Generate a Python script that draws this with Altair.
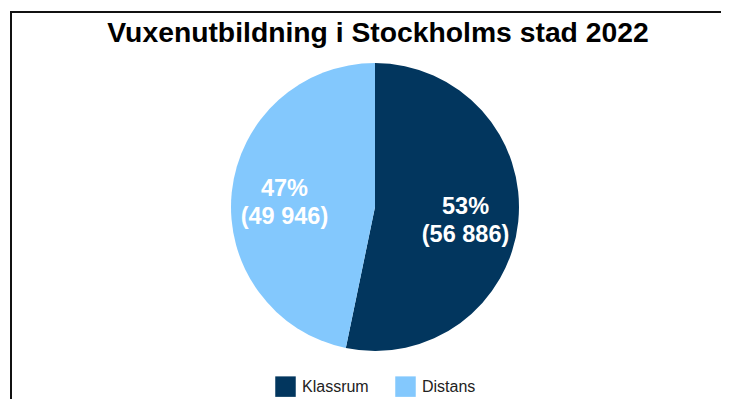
import altair as alt
import pandas as pd

categories = ["Klassrum", "Distans"]
values = [56886, 49946]
colors = ["#02365E", "#83C8FD"]
title_text = "Vuxenutbildning i Stockholms stad 2022"

total = sum(values)
labels = []
for v in values:
    pct = round(100 * v / total)
    labels.append(f"{pct}%\n({v:,})".replace(",", " "))

df = pd.DataFrame({"cat": categories, "val": values, "label": labels,
                   "order": list(range(len(categories)))})

W, H = 713, 391
CX, CY, R = 367, 199, 144

base = alt.Chart(df).encode(
    theta=alt.Theta("val:Q", stack=True),
    order=alt.Order("order:Q"),
)

arc = base.mark_arc(outerRadius=R, stroke=None).encode(
    x=alt.value(CX), y=alt.value(CY),
    color=alt.Color("cat:N", sort=categories,
                    scale=alt.Scale(domain=categories, range=colors),
                    legend=alt.Legend(title=None, orient="none", direction="horizontal",
                                      legendX=267, legendY=368,
                                      symbolType="square", symbolSize=420,
                                      symbolStrokeWidth=0,
                                      labelFontSize=16, labelFont="Liberation Sans",
                                      labelColor="#222222", columnPadding=26,
                                      labelOffset=6)),
)

txt = base.mark_text(radius=91, fontSize=23.5, fontWeight="bold", font="Liberation Sans",
                     color="white", lineBreak="\n", baseline="middle",
                     lineHeight=28, dy=-9).encode(
    x=alt.value(CX), y=alt.value(CY),
    text="label:N",
)

title_df = pd.DataFrame({"t": [title_text]})
title = alt.Chart(title_df).mark_text(fontSize=28.3, fontWeight="bold", font="Liberation Sans",
                                      color="black", baseline="middle").encode(
    x=alt.value(370), y=alt.value(26), text="t:N")

frame_df = pd.DataFrame({"a": [0]})
top_rule = alt.Chart(frame_df).mark_rule(color="#111111", strokeWidth=2).encode(
    x=alt.value(2), x2=alt.value(W + 10), y=alt.value(4))
left_rule = alt.Chart(frame_df).mark_rule(color="#111111", strokeWidth=2).encode(
    x=alt.value(3), y=alt.value(3), y2=alt.value(H + 10))

chart = alt.layer(arc, txt, title, top_rule, left_rule).properties(
    width=W, height=H, padding=0, autosize=alt.AutoSizeParams(type="none")
).configure_view(stroke=None)

chart.save("out.html", embed_options={"renderer": "svg", "actions": False})
